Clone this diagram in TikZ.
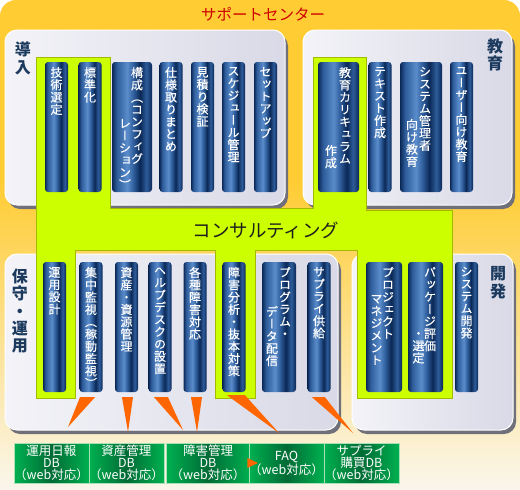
\documentclass[tikz,border=0pt]{standalone}
\usepackage{fontspec}
\usepackage{graphicx}
\setmainfont{Noto Sans CJK JP}
\newfontfamily\tatefont[RawFeature={+vert}, FakeBold=0.3]{Noto Sans CJK JP}
\usetikzlibrary{positioning,calc}

\definecolor{sptyellow}{HTML}{FFCC33}
\definecolor{sptcream}{HTML}{FAF6EC}
\definecolor{panelL}{HTML}{F3F3F8}
\definecolor{panelR}{HTML}{D9D9E7}
\definecolor{panelshd}{HTML}{70707A}
\definecolor{consult}{HTML}{CCFF00}
\definecolor{consultln}{HTML}{A3BA00}
\definecolor{consulttxt}{HTML}{1E1E1E}
\definecolor{navyE}{HTML}{0A2856}
\definecolor{navyC}{HTML}{2E5C9A}
\definecolor{navyL}{HTML}{5A8CCB}
\definecolor{labelnavy}{HTML}{1B3A5E}
\definecolor{titlered}{HTML}{CC0000}
\definecolor{dbgreen}{HTML}{00B050}
\definecolor{dbdark}{HTML}{006B35}
\definecolor{dbedge}{HTML}{A8E0B8}
\definecolor{wedgeor}{HTML}{FF6600}

\pgfdeclarehorizontalshading{colshade}{100bp}{color(0bp)=(navyE); color(25bp)=(navyE);
  color(31bp)=(navyC); color(44bp)=(navyL); color(52bp)=(navyC); color(60bp)=(navyE);
  color(68bp)=(navyC); color(75bp)=(navyE); color(100bp)=(navyE)}

\tikzset{
  panelbg/.style={rounded corners=12pt, left color=panelL, right color=panelR, draw=white, line width=1pt},
  panelshadow/.style={fill=panelshd, rounded corners=12pt},
  consultarea/.style={fill=consult, draw=consultln, line width=0.8pt},
  panellabel/.style={text=labelnavy, font=\bfseries\fontsize{16}{18}\selectfont, align=center, inner sep=0pt},
  colbox/.style={rectangle, rounded corners=3pt, minimum width=23pt, minimum height=130pt, inner sep=0pt,
    shading=colshade},
  tatetxt/.style={anchor=north, inner sep=0pt, yshift=-5pt, text=white, align=center,
    font=\tatefont\fontsize{12}{12.3}\selectfont},
  dbbox/.style={rectangle, minimum height=40pt, inner sep=0pt, left color=dbgreen, right color=dbgreen,
    middle color=dbdark, draw=dbedge, line width=0.6pt, text=white, align=center,
    font=\fontsize{12.5}{11.8}\selectfont},
  feedwedge/.style={fill=wedgeor}
}

\begin{document}
\begin{tikzpicture}[x=1pt,y=-1pt]
\useasboundingbox (0,0) rectangle (520,490);

% background
\fill[white] (0,0) rectangle (520,490);
\fill[sptyellow, rounded corners=16pt] (0,0) rectangle (520,200);
\shade[top color=sptyellow, bottom color=sptcream] (0,180) rectangle (520,490);

% panels
\foreach \a/\b/\c/\d in {5/30/285/205, 303/30/512/205, 5/254/338/430, 352/254/513/430} {
  \fill[panelshadow] (\a+3,\b+4) rectangle (\c+3,\d+4);
  \shade[panelbg] (\a,\b) rectangle (\c,\d);
}

% consulting area
\filldraw[consultarea] (36,57) -- (110,57) -- (110,208) -- (313,208) -- (313,57) -- (366,57)
  -- (366,210) -- (452,210) -- (452,398) -- (357,398) -- (357,250) -- (255,250) -- (255,398)
  -- (215,398) -- (215,250) -- (75,250) -- (75,398) -- (36,398) -- cycle;

\node[text=titlered, font=\fontsize{15.5}{16}\selectfont] (sptitle) at (263,14) {サポートセンター};
\node[text=consulttxt, font=\fontsize{18.5}{19}\selectfont] (consulting) at (266,230) {コンサルティング};

\node[panellabel] (donyu) at (23,58) {導\\入};
\node[panellabel, font=\bfseries\fontsize{16}{16.5}\selectfont] (kyoiku) at (495,55) {教\\育};
\node[panellabel, font=\bfseries\fontsize{16}{17.3}\selectfont] (hoshu) at (20,311) {保\\守\\・\\運\\用};
\node[panellabel] (kaihatsu) at (498,283) {開\\発};

% top row
\node[colbox, label={[tatetxt]north:{技\\術\\選\\定}}] (gijutsu) at (56.5,127) {};
\node[colbox, label={[tatetxt]north:{標\\準\\化}}] (hyojun) at (90,127) {};
\node[colbox, minimum width=40pt,
  label={[tatetxt, xshift=5pt]north:{構\\成\\（\\コ\\ン\\フ\\ィ\\グ}},
  label={[tatetxt, xshift=-7pt, yshift=-52pt]north:{レ\\ー\\シ\\ョ\\ン\\）}}] (kosei) at (132,127) {};
\node[colbox, label={[tatetxt]north:{仕\\様\\取\\り\\ま\\と\\め}}] (shiyo) at (171,127) {};
\node[colbox, label={[tatetxt]north:{見\\積\\り\\検\\証}}] (mitsumori) at (202.5,127) {};
\node[colbox, label={[tatetxt]north:{ス\\ケ\\ジ\\ュ\\ー\\ル\\管\\理}}] (schedule) at (233.5,127) {};
\node[colbox, label={[tatetxt]north:{セ\\ッ\\ト\\ア\\ッ\\プ}}] (setup) at (265.5,127) {};

\node[colbox, minimum width=41pt,
  label={[tatetxt, xshift=6.5pt]north:{教\\育\\カ\\リ\\キ\\ュ\\ラ\\ム}},
  label={[tatetxt, xshift=-7.5pt, yshift=-78pt]north:{作\\成}}] (curriculum) at (338.5,127) {};
\node[colbox, label={[tatetxt]north:{テ\\キ\\ス\\ト\\作\\成}}] (textsaku) at (380,127) {};
\node[colbox, minimum width=42pt,
  label={[tatetxt, xshift=4pt]north:{シ\\ス\\テ\\ム\\管\\理\\者}},
  label={[tatetxt, xshift=-9pt, yshift=-52pt]north:{向\\け\\教\\育}}] (sysadmin) at (421,127) {};
\node[colbox, label={[tatetxt]north:{ユ\\ー\\ザ\\ー\\向\\け\\教\\育}}] (usermuke) at (461.5,127) {};

% bottom row
\node[colbox, label={[tatetxt]north:{運\\用\\設\\計}}] (unyo) at (54.5,327) {};
\node[colbox, label={[tatetxt]north:{集\\中\\監\\視\\（\\稼\\動\\監\\視\\）}}] (shuchu) at (91,327) {};
\node[colbox, label={[tatetxt]north:{資\\産\\・\\資\\源\\管\\理}}] (shisan) at (126.5,327) {};
\node[colbox, label={[tatetxt]north:{ヘ\\ル\\プ\\デ\\ス\\ク\\の\\設\\置}}] (help) at (160,327) {};
\node[colbox, label={[tatetxt]north:{各\\種\\障\\害\\対\\応}}] (kakushu) at (195,327) {};
\node[colbox, label={[tatetxt]north:{障\\害\\分\\析\\・\\抜\\本\\対\\策}}] (bunseki) at (234,327) {};
\node[colbox, minimum width=34pt,
  label={[tatetxt, xshift=6pt]north:{プ\\ロ\\グ\\ラ\\ム\\・}},
  label={[tatetxt, xshift=-7pt, yshift=-39pt]north:{デ\\ー\\タ\\配\\信}}] (program) at (279,327) {};
\node[colbox, label={[tatetxt]north:{サ\\プ\\ラ\\イ\\供\\給}}] (supply) at (319,327) {};
\node[colbox, minimum width=36pt,
  label={[tatetxt, xshift=4pt]north:{プ\\ロ\\ジ\\ェ\\ク\\ト}},
  label={[tatetxt, xshift=-7.5pt, yshift=-28pt]north:{マ\\ネ\\ジ\\メ\\ン\\ト}}] (pm) at (384,327) {};
\node[colbox, minimum width=35pt,
  label={[tatetxt, xshift=4.5pt]north:{パ\\ッ\\ケ\\ー\\ジ\\評\\価}},
  label={[tatetxt, xshift=-7pt, yshift=-65pt]north:{・\\選\\定}}] (package) at (425.5,327) {};
\node[colbox, label={[tatetxt]north:{シ\\ス\\テ\\ム\\開\\発}}] (sysdev) at (466.5,327) {};

% DB
\node[dbbox, minimum width=71pt] (nippodb) at (51.5,463) {運用日報\\DB\\（web対応）};
\node[dbbox, minimum width=71pt] (shisandb) at (126.5,463) {資産管理\\DB\\（web対応）};
\node[dbbox, minimum width=84pt] (shogaidb) at (208,463) {障害管理\\DB\\（web対応）};
\node[dbbox, minimum width=65pt] (faqdb) at (286.5,463) {FAQ\\（web対応）};
\node[dbbox, minimum width=75pt] (supplydb) at (361.5,463) {サプライ\\購買DB\\（web対応）};

% wedges
\coordinate (tip1) at (68,427);
\coordinate (tip2) at (128,432);
\coordinate (tip3) at (183,430);
\coordinate (tip4) at (197,432);
\coordinate (tip5) at (279,433);
\coordinate (tip6) at (353,433);
\fill[feedwedge] ($(shuchu.south)+(-11,5)$) -- ($(shuchu.south)+(4,5)$) -- (tip1) -- cycle;
\fill[feedwedge] ($(shisan.south)+(-4.5,5)$) -- ($(shisan.south)+(6.5,5)$) -- (tip2) -- cycle;
\fill[feedwedge] ($(help.south)+(-6,5)$) -- ($(help.south)+(8,5)$) -- (tip3) -- cycle;
\fill[feedwedge] ($(kakushu.south)+(-4,5)$) -- ($(kakushu.south)+(7,5)$) -- (tip4) -- cycle;
\fill[feedwedge] ($(bunseki.south)+(-7,3)$) -- ($(bunseki.south)+(11,3)$) -- (tip5) -- cycle;
\fill[feedwedge] ($(supply.south)+(-7,5)$) -- ($(supply.south)+(6,5)$) -- (tip6) -- cycle;
\fill[feedwedge] ($(shogaidb.east)+(-3,-5)$) -- ($(shogaidb.east)+(-3,5)$) -- ($(faqdb.west)+(9,0)$) -- cycle;

\end{tikzpicture}
\end{document}
